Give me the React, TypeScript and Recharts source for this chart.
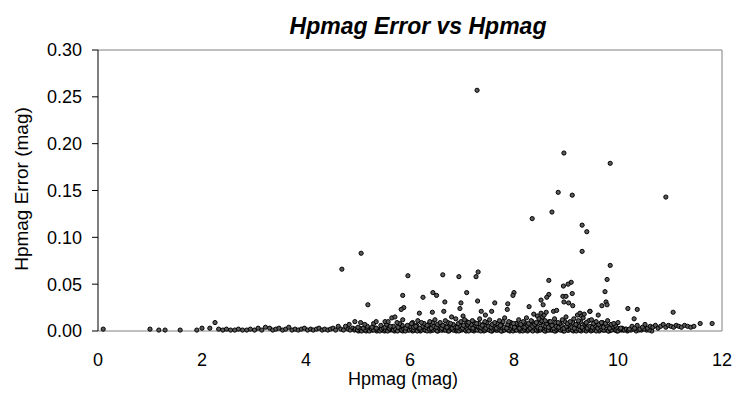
import React from 'react';
import { ScatterChart, Scatter, XAxis, YAxis, ReferenceLine, Label } from 'recharts';

const xTicks = [0, 2, 4, 6, 8, 10, 12];
const yTicks = [0, 0.05, 0.1, 0.15, 0.2, 0.25, 0.3];

// bright stars, few points near zero error
const brightStars: [number, number][] = [
  [0.1, 0.002], [1.0, 0.002], [1.17, 0.001], [1.29, 0.001], [1.58, 0.001],
  [1.9, 0.001], [2.0, 0.003], [2.15, 0.003], [2.25, 0.009],
  [2.32, 0.002], [2.4, 0.001], [2.47, 0.002], [2.55, 0.001], [2.63, 0.001], [2.7, 0.002],
  [2.78, 0.001], [2.86, 0.001], [2.93, 0.002], [3.01, 0.001], [3.08, 0.003], [3.15, 0.001],
  [3.22, 0.004], [3.3, 0.003], [3.36, 0.001], [3.42, 0.002], [3.48, 0.003], [3.55, 0.001],
  [3.61, 0.002], [3.67, 0.004], [3.73, 0.001], [3.79, 0.002], [3.85, 0.001], [3.91, 0.002],
  [3.97, 0.003], [4.03, 0.001], [4.09, 0.002], [4.14, 0.001], [4.2, 0.002], [4.25, 0.003],
  [4.31, 0.001], [4.36, 0.002], [4.42, 0.001], [4.47, 0.002], [4.52, 0.003], [4.57, 0.001],
  [4.62, 0.005], [4.67, 0.002], [4.72, 0.001], [4.76, 0.005], [4.81, 0.002], [4.83, 0.007],
  [4.85, 0.001], [4.9, 0.003], [4.94, 0.01],
];

// dense band hugging zero
const lowBand: [number, number][] = [
  [4.93, 0.001], [4.97, 0.002], [5.01, 0.0], [5.05, 0.001], [5.09, 0.002], [5.12, 0.001],
  [5.16, 0.0], [5.2, 0.002], [5.24, 0.001], [5.28, 0.001], [5.32, 0.002], [5.36, 0.0],
  [5.4, 0.001], [5.43, 0.002], [5.47, 0.001], [5.51, 0.0], [5.55, 0.002], [5.59, 0.001],
  [5.63, 0.001], [5.66, 0.002], [5.7, 0.0], [5.74, 0.001], [5.78, 0.002], [5.82, 0.001],
  [5.86, 0.0], [5.89, 0.002], [5.93, 0.001], [5.97, 0.001], [6.01, 0.002], [6.05, 0.0],
  [6.09, 0.001], [6.12, 0.002], [6.16, 0.001], [6.2, 0.0], [6.24, 0.002], [6.28, 0.001],
  [6.31, 0.001], [6.35, 0.002], [6.39, 0.0], [6.43, 0.001], [6.47, 0.002], [6.51, 0.001],
  [6.54, 0.0], [6.58, 0.002], [6.62, 0.001], [6.66, 0.001], [6.7, 0.002], [6.73, 0.0],
  [6.77, 0.001], [6.81, 0.002], [6.85, 0.001], [6.89, 0.0], [6.93, 0.002], [6.96, 0.001],
  [7.0, 0.001], [7.04, 0.002], [7.08, 0.0], [7.12, 0.001], [7.15, 0.002], [7.19, 0.001],
  [7.23, 0.0], [7.27, 0.002], [7.31, 0.001], [7.35, 0.001], [7.38, 0.002], [7.42, 0.0],
  [7.46, 0.001], [7.5, 0.002], [7.54, 0.001], [7.58, 0.0], [7.61, 0.002], [7.65, 0.001],
  [7.69, 0.001], [7.73, 0.002], [7.77, 0.0], [7.8, 0.001], [7.84, 0.002], [7.88, 0.001],
  [7.92, 0.0], [7.96, 0.002], [8.0, 0.001], [8.03, 0.001], [8.07, 0.002], [8.11, 0.0],
  [8.15, 0.001], [8.19, 0.002], [8.22, 0.001], [8.26, 0.0], [8.3, 0.002], [8.34, 0.001],
  [8.38, 0.001], [8.41, 0.002], [8.45, 0.0], [8.49, 0.001], [8.53, 0.002], [8.57, 0.001],
  [8.61, 0.0], [8.64, 0.002], [8.68, 0.001], [8.72, 0.001], [8.76, 0.002], [8.8, 0.0],
  [8.83, 0.001], [8.87, 0.002], [8.91, 0.001], [8.95, 0.0], [8.99, 0.002], [9.03, 0.001],
  [9.06, 0.001], [9.1, 0.002], [9.14, 0.0], [9.18, 0.001], [9.22, 0.002], [9.25, 0.001],
  [9.29, 0.0], [9.33, 0.002], [9.37, 0.001], [9.41, 0.001], [9.44, 0.002], [9.48, 0.0],
  [9.52, 0.001], [9.56, 0.002], [9.6, 0.001], [9.64, 0.0], [9.67, 0.002], [9.71, 0.001],
  [9.75, 0.001], [9.79, 0.002], [9.83, 0.0], [9.86, 0.001], [9.9, 0.002], [9.94, 0.001],
  [9.98, 0.0], [10.02, 0.002], [10.06, 0.001], [10.1, 0.001], [10.14, 0.002], [10.18, 0.0],
  [10.25, 0.001], [10.35, 0.0], [10.45, 0.001], [10.55, 0.001], [10.65, 0.0],
];

const lowBand2: [number, number][] = [
  [4.95, 0.002], [4.99, 0.001], [5.03, 0.003], [5.07, 0.0], [5.11, 0.002], [5.14, 0.001],
  [5.18, 0.003], [5.22, 0.0], [5.26, 0.002], [5.3, 0.001], [5.34, 0.003], [5.38, 0.001],
  [5.42, 0.0], [5.45, 0.002], [5.49, 0.003], [5.53, 0.001], [5.57, 0.0], [5.61, 0.002],
  [5.64, 0.003], [5.68, 0.001], [5.72, 0.002], [5.76, 0.0], [5.8, 0.003], [5.84, 0.001],
  [5.88, 0.002], [5.91, 0.0], [5.95, 0.003], [5.99, 0.001], [6.03, 0.002], [6.07, 0.001],
  [6.1, 0.003], [6.14, 0.0], [6.18, 0.002], [6.22, 0.001], [6.26, 0.003], [6.29, 0.001],
  [6.33, 0.0], [6.37, 0.002], [6.41, 0.003], [6.45, 0.001], [6.49, 0.002], [6.52, 0.0],
  [6.56, 0.003], [6.6, 0.001], [6.64, 0.002], [6.68, 0.001], [6.71, 0.003], [6.75, 0.0],
  [6.79, 0.002], [6.83, 0.001], [6.87, 0.003], [6.91, 0.001], [6.94, 0.0], [6.98, 0.002],
  [7.02, 0.003], [7.06, 0.001], [7.1, 0.002], [7.13, 0.0], [7.17, 0.003], [7.21, 0.001],
  [7.25, 0.002], [7.29, 0.001], [7.33, 0.003], [7.36, 0.0], [7.4, 0.002], [7.44, 0.001],
  [7.48, 0.003], [7.52, 0.001], [7.56, 0.0], [7.59, 0.002], [7.63, 0.003], [7.67, 0.001],
  [7.71, 0.002], [7.75, 0.0], [7.78, 0.003], [7.82, 0.001], [7.86, 0.002], [7.9, 0.001],
  [7.94, 0.003], [7.98, 0.0], [8.01, 0.002], [8.05, 0.001], [8.09, 0.003], [8.13, 0.001],
  [8.17, 0.0], [8.2, 0.002], [8.24, 0.003], [8.28, 0.001], [8.32, 0.002], [8.36, 0.0],
  [8.39, 0.003], [8.43, 0.001], [8.47, 0.002], [8.51, 0.001], [8.55, 0.003], [8.59, 0.0],
  [8.62, 0.002], [8.66, 0.001], [8.7, 0.003], [8.74, 0.001], [8.78, 0.0], [8.81, 0.002],
  [8.85, 0.003], [8.89, 0.001], [8.93, 0.002], [8.97, 0.0], [9.01, 0.003], [9.04, 0.001],
  [9.08, 0.002], [9.12, 0.001], [9.16, 0.003], [9.2, 0.0], [9.23, 0.002], [9.27, 0.001],
  [9.31, 0.003], [9.35, 0.001], [9.39, 0.0], [9.42, 0.002], [9.46, 0.003], [9.5, 0.001],
  [9.54, 0.002], [9.58, 0.0], [9.62, 0.003], [9.65, 0.001], [9.69, 0.002], [9.73, 0.001],
  [9.77, 0.003], [9.81, 0.0], [9.85, 0.002], [9.88, 0.001], [9.92, 0.003], [9.96, 0.001],
  [10.0, 0.0], [10.04, 0.002], [10.08, 0.003], [10.12, 0.001], [10.16, 0.002], [10.2, 0.001],
  [10.3, 0.002], [10.4, 0.001], [10.5, 0.002], [10.6, 0.001],
];

const midBand: [number, number][] = [
  [5.0, 0.004], [5.1, 0.003], [5.18, 0.005], [5.27, 0.004], [5.35, 0.003], [5.44, 0.006],
  [5.52, 0.004], [5.6, 0.003], [5.68, 0.005], [5.77, 0.004], [5.85, 0.006], [5.92, 0.003],
  [6.0, 0.005], [6.07, 0.004], [6.13, 0.006], [6.19, 0.003], [6.25, 0.005], [6.31, 0.004],
  [6.36, 0.007], [6.41, 0.003], [6.46, 0.005], [6.51, 0.004], [6.56, 0.006], [6.61, 0.003],
  [6.66, 0.005], [6.71, 0.004], [6.76, 0.007], [6.81, 0.003], [6.86, 0.005], [6.91, 0.004],
  [6.96, 0.006], [7.01, 0.003], [7.06, 0.005], [7.11, 0.007], [7.16, 0.004], [7.21, 0.003],
  [7.26, 0.006], [7.31, 0.005], [7.36, 0.004], [7.41, 0.007], [7.46, 0.003], [7.51, 0.005],
  [7.56, 0.004], [7.61, 0.006], [7.66, 0.003], [7.71, 0.005], [7.76, 0.007], [7.81, 0.004],
  [7.86, 0.003], [7.91, 0.006], [7.96, 0.005], [8.01, 0.004], [8.06, 0.007], [8.11, 0.003],
  [8.16, 0.005], [8.21, 0.004], [8.26, 0.006], [8.31, 0.003], [8.36, 0.005], [8.41, 0.007],
  [8.46, 0.004], [8.51, 0.003], [8.56, 0.006], [8.61, 0.005], [8.66, 0.004], [8.71, 0.007],
  [8.76, 0.003], [8.81, 0.005], [8.86, 0.004], [8.91, 0.006], [8.96, 0.003], [9.01, 0.005],
  [9.06, 0.007], [9.11, 0.004], [9.16, 0.003], [9.21, 0.006], [9.26, 0.005], [9.31, 0.004],
  [9.36, 0.007], [9.41, 0.003], [9.46, 0.005], [9.51, 0.004], [9.56, 0.006], [9.61, 0.003],
  [9.66, 0.005], [9.72, 0.004], [9.78, 0.006], [9.84, 0.003], [9.9, 0.005], [9.97, 0.004],
  [10.05, 0.003],
  [5.55, 0.007], [5.62, 0.005], [5.8, 0.008], [5.95, 0.006], [6.05, 0.009], [6.11, 0.005],
  [6.27, 0.008], [6.33, 0.006], [6.44, 0.009], [6.53, 0.007], [6.63, 0.006], [6.73, 0.009],
  [6.83, 0.007], [6.93, 0.008], [7.03, 0.006], [7.09, 0.01], [7.18, 0.007], [7.24, 0.009],
  [7.33, 0.008], [7.39, 0.006], [7.48, 0.009], [7.58, 0.007], [7.68, 0.008], [7.74, 0.006],
  [7.79, 0.01], [7.88, 0.007], [7.94, 0.009], [8.04, 0.008], [8.13, 0.007], [8.2, 0.009],
  [8.28, 0.008], [8.35, 0.01], [8.4, 0.007], [8.5, 0.009], [8.53, 0.011], [8.63, 0.008],
  [8.68, 0.01], [8.73, 0.006], [8.8, 0.009], [8.88, 0.008], [8.98, 0.01], [9.03, 0.008],
  [9.13, 0.009], [9.19, 0.007], [9.28, 0.01], [9.38, 0.008], [9.44, 0.011], [9.53, 0.008],
  [9.63, 0.007], [9.7, 0.009], [9.76, 0.008], [9.87, 0.007], [9.95, 0.006],
];

const highBand: [number, number][] = [
  [5.05, 0.009], [5.13, 0.007], [5.3, 0.008], [5.35, 0.01], [5.52, 0.01], [5.58, 0.01],
  [5.65, 0.014], [5.71, 0.015], [5.75, 0.009], [5.86, 0.012], [6.03, 0.008], [6.15, 0.011],
  [6.18, 0.019], [6.22, 0.009], [6.38, 0.01], [6.43, 0.02], [6.48, 0.012], [6.58, 0.009],
  [6.65, 0.021], [6.68, 0.011], [6.78, 0.008], [6.8, 0.015], [6.88, 0.013], [6.98, 0.01],
  [7.02, 0.016], [7.05, 0.012], [7.13, 0.009], [7.2, 0.011], [7.28, 0.008], [7.34, 0.013],
  [7.37, 0.021], [7.44, 0.01], [7.45, 0.017], [7.53, 0.012], [7.57, 0.021], [7.63, 0.009],
  [7.72, 0.011], [7.82, 0.014], [7.9, 0.01], [7.99, 0.008], [8.09, 0.012], [8.18, 0.01],
  [8.24, 0.014], [8.33, 0.011], [8.38, 0.018], [8.43, 0.009], [8.45, 0.016], [8.48, 0.013],
  [8.52, 0.019], [8.55, 0.015], [8.58, 0.017], [8.6, 0.011], [8.62, 0.02], [8.7, 0.01],
  [8.76, 0.021], [8.78, 0.013], [8.82, 0.022], [8.85, 0.009], [8.93, 0.012], [9.0, 0.015],
  [9.08, 0.01], [9.15, 0.013], [9.22, 0.017], [9.24, 0.011], [9.27, 0.019], [9.3, 0.016],
  [9.33, 0.014], [9.35, 0.018], [9.39, 0.009], [9.46, 0.021], [9.49, 0.012], [9.58, 0.01],
  [9.62, 0.017], [9.68, 0.009], [9.8, 0.011], [9.92, 0.008], [10.0, 0.009],
];

// faint stars trailing off past 10 mag
const faintTail: [number, number][] = [
  [10.22, 0.002], [10.27, 0.005], [10.31, 0.013], [10.32, 0.003], [10.37, 0.006],
  [10.42, 0.002], [10.47, 0.004], [10.52, 0.007], [10.57, 0.003], [10.62, 0.005],
  [10.67, 0.004], [10.72, 0.006], [10.77, 0.003], [10.82, 0.005], [10.87, 0.007],
  [10.92, 0.004], [10.97, 0.006], [11.02, 0.005], [11.07, 0.004], [11.12, 0.006],
  [11.17, 0.005], [11.22, 0.004], [11.28, 0.006], [11.34, 0.005], [11.4, 0.004],
  [11.46, 0.005], [11.58, 0.008], [11.81, 0.008],
];

// scattered points with larger errors
const outliers: [number, number][] = [
  [7.29, 0.257], [8.96, 0.19], [9.85, 0.179], [8.85, 0.148], [9.12, 0.145], [10.92, 0.143],
  [8.73, 0.127], [8.35, 0.12], [9.31, 0.113], [9.4, 0.106], [9.31, 0.085], [5.06, 0.083],
  [9.85, 0.07], [4.69, 0.066], [7.31, 0.063], [5.96, 0.059], [6.63, 0.06], [6.94, 0.058],
  [7.27, 0.058], [9.79, 0.055], [8.67, 0.054], [9.1, 0.052], [9.04, 0.05], [8.95, 0.048],
  [9.75, 0.042], [6.44, 0.041], [7.09, 0.041], [8.0, 0.041], [9.12, 0.04], [8.67, 0.039],
  [6.51, 0.038], [5.86, 0.038], [7.98, 0.038], [8.94, 0.037], [9.0, 0.037], [6.25, 0.036],
  [8.63, 0.036], [8.52, 0.033], [7.3, 0.032], [6.67, 0.031], [8.96, 0.031], [9.77, 0.031],
  [6.98, 0.03], [7.63, 0.03], [9.05, 0.03], [7.88, 0.029], [5.19, 0.028], [9.79, 0.028],
  [8.56, 0.028], [9.13, 0.027], [9.69, 0.027], [8.29, 0.026], [5.88, 0.025], [6.96, 0.024],
  [10.19, 0.024], [5.83, 0.023], [7.87, 0.023], [10.37, 0.023], [9.46, 0.021],
  [11.06, 0.02],
];

const points = [
  ...brightStars, ...lowBand, ...lowBand2, ...midBand, ...highBand, ...faintTail, ...outliers,
].map(([x, y]) => ({ x, y }));

const font = '"Liberation Sans", Arial, sans-serif';

const Dot = (props: any) => (
  <circle cx={props.cx} cy={props.cy} r={2.1} fill="#5a5a5a" stroke="#000" strokeWidth={1} />
);

export default function App() {
  return (
    <div style={{ position: 'absolute', left: 0, top: 0, width: 751, height: 402, background: '#fff' }}>
      <div
        style={{
          position: 'absolute',
          left: 418,
          top: 13,
          transform: 'translateX(-50%)',
          fontFamily: font,
          fontSize: 23,
          lineHeight: '26px',
          fontWeight: 'bold',
          fontStyle: 'italic',
          whiteSpace: 'nowrap',
          color: '#000',
        }}
      >
        Hpmag Error vs Hpmag
      </div>
      <ScatterChart width={751} height={402} margin={{ top: 50, right: 29, bottom: 0, left: 0 }}>
        <XAxis
          type="number"
          dataKey="x"
          domain={[0, 12]}
          ticks={xTicks}
          height={71}
          axisLine={{ stroke: '#808080' }}
          tickLine={false}
          tickSize={6}
          tickMargin={16}
          tick={{ fill: '#000', fontSize: 18, fontFamily: font }}
        >
          <Label value="Hpmag (mag)" position="insideBottom" offset={17} dx={-7} fill="#000" fontSize={18} fontFamily={font} />
        </XAxis>
        <YAxis
          type="number"
          dataKey="y"
          domain={[0, 0.3]}
          ticks={yTicks}
          width={98}
          axisLine={{ stroke: '#000' }}
          tickLine={{ stroke: '#000' }}
          tickSize={6}
          tickMargin={10}
          tickFormatter={(v: number) => v.toFixed(2)}
          tick={{ fill: '#000', fontSize: 18, fontFamily: font }}
        >
          <Label
            content={() => (
              <text
                x={21}
                y={189}
                transform="rotate(-90 21 189)"
                textAnchor="middle"
                dominantBaseline="central"
                fill="#000"
                fontSize={19}
                fontFamily={font}
              >
                Hpmag Error (mag)
              </text>
            )}
          />
        </YAxis>
        <ReferenceLine y={0.3} stroke="#808080" />
        <ReferenceLine x={12} stroke="#808080" />
        <Scatter data={points} shape={Dot} isAnimationActive={false} />
      </ScatterChart>
    </div>
  );
}
